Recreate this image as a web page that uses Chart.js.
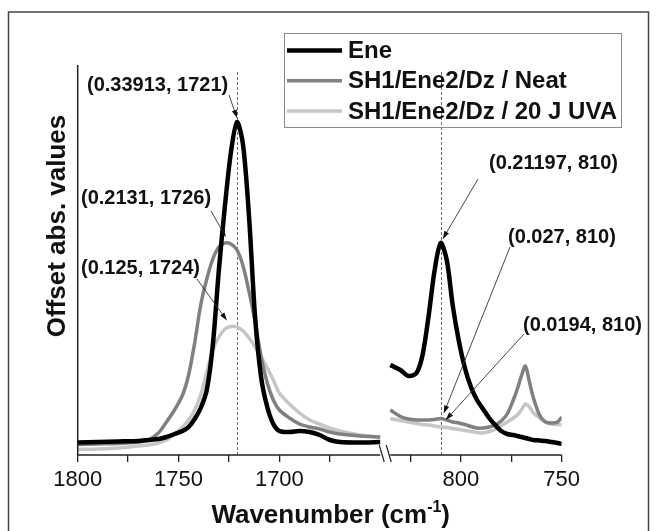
<!DOCTYPE html>
<html>
<head>
<meta charset="utf-8">
<script src="https://cdn.jsdelivr.net/npm/chart.js@4.4.1/dist/chart.umd.min.js"></script>
<style>
  html, body { margin: 0; padding: 0; background: #fff; }
</style>
</head>
<body>
<canvas id="spectra" width="656" height="531"></canvas>
<script>
// wavenumbers (cm-1) of the two panels of the broken axis
const leftWavenumbers = [1800, 1790, 1780, 1770, 1765, 1760, 1756, 1752, 1748, 1745, 1742, 1739, 1736, 1733, 1730, 1727, 1724, 1721, 1718, 1715, 1712, 1709, 1706, 1703, 1700, 1695, 1690, 1685, 1680, 1675, 1670, 1660, 1650]
const rightWavenumbers = [835, 830, 826, 822, 819, 816, 813, 810, 807, 804, 801, 798, 795, 792, 789, 786, 783, 780, 777, 774, 772, 770, 768, 766, 764, 761, 758, 755, 752, 750]

// offset absorbance
const eneLeft = [0.0125, 0.013, 0.0135, 0.014, 0.015, 0.016, 0.018, 0.021, 0.024, 0.028, 0.036, 0.047, 0.065, 0.110, 0.185, 0.249, 0.303, 0.333, 0.310, 0.237, 0.137, 0.077, 0.048, 0.031, 0.024, 0.023, 0.024, 0.023, 0.020, 0.015, 0.013, 0.0125, 0.013]
const neatLeft = [0.0105, 0.011, 0.0115, 0.013, 0.015, 0.022, 0.033, 0.045, 0.060, 0.080, 0.112, 0.150, 0.176, 0.196, 0.208, 0.212, 0.211, 0.205, 0.189, 0.163, 0.133, 0.098, 0.072, 0.055, 0.045, 0.037, 0.031, 0.028, 0.026, 0.023, 0.021, 0.019, 0.018]
const uvaLeft = [0.0055, 0.006, 0.007, 0.009, 0.010, 0.012, 0.015, 0.021, 0.028, 0.035, 0.045, 0.060, 0.083, 0.105, 0.118, 0.126, 0.1285, 0.128, 0.124, 0.117, 0.108, 0.098, 0.087, 0.075, 0.062, 0.051, 0.042, 0.035, 0.031, 0.027, 0.024, 0.020, 0.018]

const eneRight = [0.090, 0.085, 0.079, 0.082, 0.100, 0.139, 0.185, 0.212, 0.195, 0.149, 0.114, 0.087, 0.068, 0.055, 0.046, 0.037, 0.030, 0.024, 0.021, 0.020, 0.019, 0.018, 0.017, 0.016, 0.015, 0.0145, 0.014, 0.013, 0.012, 0.011]
const neatRight = [0.045, 0.0385, 0.036, 0.035, 0.035, 0.035, 0.0355, 0.0365, 0.035, 0.033, 0.032, 0.0305, 0.0285, 0.027, 0.027, 0.028, 0.030, 0.034, 0.041, 0.055, 0.066, 0.079, 0.089, 0.073, 0.057, 0.040, 0.033, 0.032, 0.033, 0.038]
const uvaRight = [0.0365, 0.0345, 0.033, 0.0315, 0.0305, 0.030, 0.029, 0.028, 0.0275, 0.0265, 0.0255, 0.0245, 0.0235, 0.0225, 0.022, 0.0235, 0.0255, 0.0295, 0.033, 0.037, 0.040, 0.045, 0.051, 0.048, 0.042, 0.037, 0.033, 0.031, 0.0305, 0.030]

const seriesNames = ['Ene', 'SH1/Ene2/Dz / Neat', 'SH1/Ene2/Dz / 20 J UVA']
const seriesColors = ['#000000', '#808080', '#c6c6c6']
const seriesWidths = [4.5, 3.5, 3.5]

const majorTicks = [1800, 1750, 1700, 800, 750]
const minorTicks = [1775, 1725, 1675, 825, 775]

const peakLabels = ['(0.33913, 1721)', '(0.2131, 1726)', '(0.125, 1724)', '(0.21197, 810)', '(0.027, 810)', '(0.0194, 810)']
const peakWavenumbers = [1721, 1726, 1724, 810, 810, 810]
const markerLines = [1721, 810]

// broken axis: left panel 1800-1650, small gap, right panel 835-750
const LEFT_START = 1800
const LEFT_END = 1650
const RIGHT_START = 835
const RIGHT_END = 750
const GAP = 5
const toAxis = wn => wn > 1000 ? LEFT_START - wn : (LEFT_START - LEFT_END) + GAP + (RIGHT_START - wn)
const axisMax = toAxis(RIGHT_END)

const FONT = "'Liberation Sans', Arial, sans-serif"

function buildSeries(left, right) {
  const pts = leftWavenumbers.map((wn, i) => ({ x: toAxis(wn), y: left[i] }))
  pts.push({ x: toAxis(LEFT_END) + GAP / 2, y: null })
  rightWavenumbers.forEach((wn, i) => pts.push({ x: toAxis(wn), y: right[i] }))
  return pts
}

function valueAt(wn, left, right) {
  const grid = wn > 1000 ? leftWavenumbers : rightWavenumbers
  const vals = wn > 1000 ? left : right
  let best = 0
  grid.forEach((g, i) => { if (Math.abs(g - wn) < Math.abs(grid[best] - wn)) best = i })
  return vals[best]
}

const seriesData = [[eneLeft, eneRight], [neatLeft, neatRight], [uvaLeft, uvaRight]]
const peakSeries = [0, 1, 2, 0, 1, 2]

// text placement and arrow tails (pixels), arrow tips follow the data
const labelLayout = [
  { left: 87, cy: 85, from: [229, 95], off: [0, -4] },
  { left: 81, cy: 198, from: [211, 211], off: [-1, -6] },
  { left: 81, cy: 268, from: [197, 279], off: [-4, -6] },
  { left: 489, cy: 163, from: [478, 179], off: [2, -4] },
  { left: 508, cy: 237, from: [510, 247], off: [3, -5] },
  { left: 523, cy: 325, from: [524, 334], off: [5, -7] }
]

function arrow(ctx, x1, y1, x2, y2) {
  const a = Math.atan2(y2 - y1, x2 - x1)
  ctx.beginPath()
  ctx.moveTo(x1, y1)
  ctx.lineTo(x2 - 6 * Math.cos(a), y2 - 6 * Math.sin(a))
  ctx.stroke()
  ctx.beginPath()
  ctx.moveTo(x2, y2)
  ctx.lineTo(x2 - 8 * Math.cos(a) + 2.6 * Math.sin(a), y2 - 8 * Math.sin(a) - 2.6 * Math.cos(a))
  ctx.lineTo(x2 - 8 * Math.cos(a) - 2.6 * Math.sin(a), y2 - 8 * Math.sin(a) + 2.6 * Math.cos(a))
  ctx.closePath()
  ctx.fill()
}

const decor = {
  id: 'decor',
  beforeDatasetsDraw(chart) {
    const { ctx, chartArea: area, scales: { x } } = chart
    ctx.save()
    ctx.strokeStyle = '#666'
    ctx.lineWidth = 1
    ctx.setLineDash([3, 2])
    markerLines.forEach(wn => {
      const px = Math.round(x.getPixelForValue(toAxis(wn))) + 0.5
      ctx.beginPath()
      ctx.moveTo(px, 72)
      ctx.lineTo(px, area.bottom)
      ctx.stroke()
    })
    ctx.restore()
  },
  afterDraw(chart) {
    const { ctx, chartArea: area, scales: { x, y } } = chart
    ctx.save()

    // outer frame
    ctx.strokeStyle = '#444'
    ctx.lineWidth = 1.5
    ctx.strokeRect(8.5, 12, 640, 540)

    // axis lines with the break
    ctx.strokeStyle = '#222'
    ctx.lineWidth = 1.5
    const b = area.bottom
    ctx.beginPath()
    ctx.moveTo(area.left, area.top)
    ctx.lineTo(area.left, b)
    ctx.lineTo(x.getPixelForValue(toAxis(LEFT_END)), b)
    ctx.moveTo(x.getPixelForValue(toAxis(RIGHT_START)), b)
    ctx.lineTo(x.getPixelForValue(axisMax), b)
    ctx.stroke()
    const mid = (x.getPixelForValue(toAxis(LEFT_END)) + x.getPixelForValue(toAxis(RIGHT_START))) / 2
    ctx.lineWidth = 1.2
    ctx.beginPath()
    ctx.moveTo(mid - 6, b - 10)
    ctx.lineTo(mid - 1, b + 7)
    ctx.moveTo(mid + 1, b - 10)
    ctx.lineTo(mid + 6, b + 7)
    ctx.stroke()

    // legend
    ctx.strokeStyle = '#8a8a8a'
    ctx.lineWidth = 1
    ctx.strokeRect(284.5, 33.5, 337, 94)
    ctx.font = 'bold 24px ' + FONT
    ctx.textBaseline = 'middle'
    ctx.textAlign = 'left'
    seriesNames.forEach((name, i) => {
      const ly = 50.5 + i * 30.2
      ctx.strokeStyle = seriesColors[i]
      ctx.lineWidth = seriesWidths[i]
      ctx.beginPath()
      ctx.moveTo(287, ly)
      ctx.lineTo(342, ly)
      ctx.stroke()
      ctx.fillStyle = '#111'
      ctx.fillText(name, 348, ly + 1)
    })

    // peak labels and arrows
    ctx.font = 'bold 20px ' + FONT
    ctx.strokeStyle = '#333'
    ctx.fillStyle = '#111'
    ctx.lineWidth = 0.9
    peakLabels.forEach((txt, i) => {
      const lay = labelLayout[i]
      const [l, r] = seriesData[peakSeries[i]]
      const wn = peakWavenumbers[i]
      const tx = x.getPixelForValue(toAxis(wn)) + lay.off[0]
      const ty = y.getPixelForValue(valueAt(wn, l, r)) + lay.off[1]
      ctx.fillText(txt, lay.left, lay.cy)
      arrow(ctx, lay.from[0], lay.from[1], tx, ty)
    })

    // axis titles
    ctx.fillStyle = '#111'
    ctx.font = 'bold 26px ' + FONT
    ctx.save()
    ctx.translate(65, 226)
    ctx.rotate(-Math.PI / 2)
    ctx.textAlign = 'center'
    ctx.textBaseline = 'alphabetic'
    ctx.fillText('Offset abs. values', 0, 0)
    ctx.restore()

    const main = 'Wavenumber (cm'
    ctx.font = 'bold 26px ' + FONT
    const w1 = ctx.measureText(main).width
    const w3 = ctx.measureText(')').width
    ctx.font = 'bold 16px ' + FONT
    const w2 = ctx.measureText('-1').width
    const startX = (area.left + area.right) / 2 + 11 - (w1 + w2 + w3) / 2
    const baseY = 523
    ctx.textAlign = 'left'
    ctx.textBaseline = 'alphabetic'
    ctx.font = 'bold 26px ' + FONT
    ctx.fillText(main, startX, baseY)
    ctx.font = 'bold 16px ' + FONT
    ctx.fillText('-1', startX + w1, baseY - 11)
    ctx.font = 'bold 26px ' + FONT
    ctx.fillText(')', startX + w1 + w2, baseY)

    ctx.restore()
  }
}

new Chart(document.getElementById('spectra'), {
  type: 'line',
  data: {
    datasets: seriesNames.map((name, i) => ({
      label: name,
      data: buildSeries(seriesData[i][0], seriesData[i][1]),
      borderColor: seriesColors[i],
      borderWidth: seriesWidths[i],
      pointRadius: 0,
      tension: 0.3,
      borderJoinStyle: 'round',
      spanGaps: false,
      fill: false,
      order: i
    }))
  },
  options: {
    responsive: false,
    animation: false,
    devicePixelRatio: 1,
    layout: { padding: { left: 77.7, top: 65, right: 94.3, bottom: 36 } },
    plugins: { legend: { display: false }, tooltip: { enabled: false } },
    scales: {
      x: {
        type: 'linear',
        min: 0,
        max: axisMax,
        afterBuildTicks: scale => {
          scale.ticks = [...majorTicks, ...minorTicks].map(toAxis).sort((a, b) => a - b).map(v => ({ value: v }))
        },
        afterFit: scale => { scale.height = 40 },
        border: { display: false },
        grid: { drawOnChartArea: false, drawTicks: true, tickLength: 7, color: '#222', lineWidth: 1.3 },
        ticks: {
          autoSkip: false,
          maxRotation: 0,
          padding: 5,
          color: '#111',
          font: { family: FONT, size: 22 },
          callback: value => {
            const wn = majorTicks.find(t => toAxis(t) === value)
            return wn === undefined ? '' : String(wn)
          }
        }
      },
      y: { display: false, min: 0, max: 0.39 }
    }
  },
  plugins: [decor]
})
</script>
</body>
</html>
